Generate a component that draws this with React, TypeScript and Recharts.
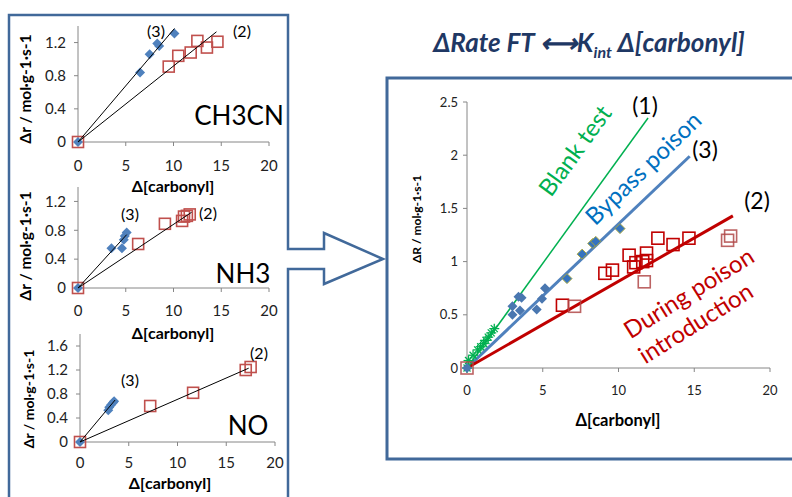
import React from 'react';
import { ScatterChart, Scatter, XAxis, YAxis } from 'recharts';

// ---- left panels: CH3CN / NH3 / NO ----
const ch3cnBypass = [{ x: 0, y: 0 }, { x: 6.5, y: 0.84 }, { x: 7.5, y: 1.06 }, { x: 8.3, y: 1.19 }, { x: 8.5, y: 1.16 }, { x: 10.1, y: 1.31 }];
const ch3cnDuring = [{ x: 0, y: 0 }, { x: 9.5, y: 0.91 }, { x: 10.5, y: 1.04 }, { x: 11.8, y: 1.08 }, { x: 12.5, y: 1.22 }, { x: 13.5, y: 1.14 }, { x: 14.6, y: 1.21 }];
const ch3cnFitBypass = [{ x: 0, y: 0 }, { x: 10.1, y: 1.37 }];
const ch3cnFitDuring = [{ x: 0, y: 0 }, { x: 14.5, y: 1.33 }];

const nh3Bypass = [{ x: 0, y: 0 }, { x: 3.5, y: 0.55 }, { x: 4.6, y: 0.55 }, { x: 4.8, y: 0.67 }, { x: 4.9, y: 0.72 }, { x: 5.1, y: 0.77 }];
const nh3During = [{ x: 0, y: 0 }, { x: 6.3, y: 0.61 }, { x: 9.1, y: 0.89 }, { x: 10.9, y: 0.93 }, { x: 11.1, y: 0.99 }, { x: 11.4, y: 1.0 }, { x: 11.7, y: 1.02 }];
const nh3FitBypass = [{ x: 0, y: 0 }, { x: 5.1, y: 0.74 }];
const nh3FitDuring = [{ x: 0, y: 0 }, { x: 11.9, y: 1.05 }];

const noBypass = [{ x: 0, y: 0 }, { x: 2.9, y: 0.53 }, { x: 3.0, y: 0.58 }, { x: 3.2, y: 0.62 }, { x: 3.4, y: 0.66 }, { x: 3.5, y: 0.68 }];
const noDuring = [{ x: 0, y: 0 }, { x: 7.2, y: 0.6 }, { x: 11.6, y: 0.82 }, { x: 17.0, y: 1.2 }, { x: 17.5, y: 1.25 }];
const noFitBypass = [{ x: 0, y: 0 }, { x: 3.6, y: 0.7 }];
const noFitDuring = [{ x: 0, y: 0 }, { x: 17.3, y: 1.23 }];

// ---- big panel ----
const blank = [{ x: 0, y: 0 }, { x: 0.1, y: 0.07 }, { x: 0.4, y: 0.12 }, { x: 0.7, y: 0.17 }, { x: 0.9, y: 0.2 }, { x: 1.1, y: 0.23 }, { x: 1.25, y: 0.26 }, { x: 1.4, y: 0.29 }, { x: 1.6, y: 0.33 }, { x: 1.8, y: 0.37 }];
const bypassA = [{ x: 6.6, y: 0.84 }, { x: 7.6, y: 1.07 }, { x: 8.3, y: 1.17 }, { x: 8.5, y: 1.19 }, { x: 10.1, y: 1.31 }];
const bypassB = [{ x: 0, y: 0 }, { x: 3.0, y: 0.5 }, { x: 3.0, y: 0.58 }, { x: 3.5, y: 0.54 }, { x: 3.6, y: 0.66 }, { x: 3.4, y: 0.67 }, { x: 4.6, y: 0.55 }, { x: 4.95, y: 0.65 }, { x: 5.15, y: 0.75 }];
const duringA = [{ x: 6.3, y: 0.59 }, { x: 9.1, y: 0.89 }, { x: 9.6, y: 0.92 }, { x: 10.7, y: 1.06 }, { x: 11.0, y: 0.95 }, { x: 11.15, y: 0.99 }, { x: 11.6, y: 1.0 }, { x: 11.85, y: 1.08 }, { x: 11.85, y: 1.01 }, { x: 12.6, y: 1.22 }, { x: 13.6, y: 1.16 }, { x: 14.65, y: 1.22 }];
const duringB = [{ x: 0, y: 0 }, { x: 7.1, y: 0.58 }, { x: 11.7, y: 0.81 }, { x: 17.2, y: 1.2 }, { x: 17.4, y: 1.24 }];
const fitBlank = [{ x: 0, y: 0 }, { x: 11.95, y: 2.35 }];
const fitBypass = [{ x: 0, y: 0 }, { x: 14.7, y: 1.99 }];
const fitDuring = [{ x: 0, y: 0 }, { x: 17.55, y: 1.43 }];

const xTicks = [0, 5, 10, 15, 20];
const smallYTicks = [0, 0.4, 0.8, 1.2];
const noYTicks = [0, 0.4, 0.8, 1.2, 1.6];
const bigYTicks = [0, 0.5, 1, 1.5, 2, 2.5];

const FONT = 'Lato, "Open Sans", sans-serif';
const AXIS = '#868686';
const NAVY = '#41699a';

const diamond = (fill: string, stroke = 'none', r = 5) => (p: any) => (
  <path d={`M${p.cx},${p.cy - r}L${p.cx + r},${p.cy}L${p.cx},${p.cy + r}L${p.cx - r},${p.cy}Z`} fill={fill} stroke={stroke} strokeWidth={1} />
);
const square = (stroke: string, s = 11, opacity = 1) => (p: any) => (
  <rect x={p.cx - s / 2} y={p.cy - s / 2} width={s} height={s} fill="none" stroke={stroke} strokeWidth={1.6} opacity={opacity} />
);
const asterisk = (stroke: string) => (p: any) => (
  <g stroke={stroke} strokeWidth={1.3}>
    <line x1={p.cx - 5} y1={p.cy} x2={p.cx + 5} y2={p.cy} />
    <line x1={p.cx} y1={p.cy - 5} x2={p.cx} y2={p.cy + 5} />
    <line x1={p.cx - 3.5} y1={p.cy - 3.5} x2={p.cx + 3.5} y2={p.cy + 3.5} />
    <line x1={p.cx - 3.5} y1={p.cy + 3.5} x2={p.cx + 3.5} y2={p.cy - 3.5} />
  </g>
);
const none = () => <g />;

type SmallProps = {
  top: number; height: number; margin: any; yMax: number; yTicks: number[]; tickGap: number;
  bypass: any[]; during: any[]; fitB: any[]; fitD: any[];
};

function SmallChart({ top, height, margin, yMax, yTicks, tickGap, bypass, during, fitB, fitD }: SmallProps) {
  return (
    <div style={{ position: 'absolute', left: 0, top }}>
      <ScatterChart width={290} height={height} margin={margin}>
        <XAxis type="number" dataKey="x" domain={[0, 20]} ticks={xTicks} stroke={AXIS} tickSize={4} tickMargin={tickGap}
          tick={{ fontSize: 15, fill: '#222' }} height={30} />
        <YAxis type="number" dataKey="y" domain={[0, yMax]} ticks={yTicks} stroke={AXIS} tickSize={4} tickMargin={8}
          tick={{ fontSize: 15, fill: '#222' }} width={40} />
        <Scatter data={bypass} shape={diamond('#4f81bd')} isAnimationActive={false} />
        <Scatter data={during} shape={square('#c0504d')} isAnimationActive={false} />
        <Scatter data={fitB} line={{ stroke: '#000', strokeWidth: 1 }} shape={none} isAnimationActive={false} />
        <Scatter data={fitD} line={{ stroke: '#000', strokeWidth: 1 }} shape={none} isAnimationActive={false} />
      </ScatterChart>
    </div>
  );
}

function BigChart() {
  return (
    <div style={{ position: 'absolute', left: 386, top: 80 }}>
      <ScatterChart width={406} height={380} margin={{ top: 22, right: 22, bottom: 62, left: 31 }}>
        <XAxis type="number" dataKey="x" domain={[0, 20]} ticks={xTicks} stroke={AXIS} tickSize={4} tickMargin={14}
          tick={{ fontSize: 13, fill: '#222' }} height={30} />
        <YAxis type="number" dataKey="y" domain={[0, 2.5]} ticks={bigYTicks} stroke={AXIS} tickSize={4} tickMargin={5}
          tick={{ fontSize: 13, fill: '#222' }} width={50} />
        <Scatter data={fitBlank} line={{ stroke: '#00b050', strokeWidth: 1.5 }} shape={none} isAnimationActive={false} />
        <Scatter data={fitBypass} line={{ stroke: '#4f81bd', strokeWidth: 3 }} shape={none} isAnimationActive={false} />
        <Scatter data={fitDuring} line={{ stroke: '#c00000', strokeWidth: 3 }} shape={none} isAnimationActive={false} />
        <Scatter data={blank} shape={asterisk('#00b050')} isAnimationActive={false} />
        <Scatter data={bypassB} shape={diamond('#4a77b0')} isAnimationActive={false} />
        <Scatter data={bypassA} shape={diamond('#3573bf', '#a6a640')} isAnimationActive={false} />
        <Scatter data={duringA} shape={square('#c00000', 12)} isAnimationActive={false} />
        <Scatter data={duringB} shape={square('#b04848', 12, 0.85)} isAnimationActive={false} />
      </ScatterChart>
    </div>
  );
}

const rot = (x: number, y: number, a: number) => `rotate(${a} ${x} ${y})`;

export default function App() {
  return (
    <div style={{ position: 'absolute', left: 0, top: 0, width: 792, height: 497, background: '#fff', fontFamily: FONT, overflow: 'hidden' }}>
      <SmallChart top={0} height={180} margin={{ top: 26, right: 21, bottom: 8, left: 38 }} yMax={1.4} yTicks={smallYTicks} tickGap={14}
        bypass={ch3cnBypass} during={ch3cnDuring} fitB={ch3cnFitBypass} fitD={ch3cnFitDuring} />
      <SmallChart top={160} height={160} margin={{ top: 27, right: 21, bottom: 2, left: 38 }} yMax={1.4} yTicks={smallYTicks} tickGap={13}
        bypass={nh3Bypass} during={nh3During} fitB={nh3FitBypass} fitD={nh3FitDuring} />
      <SmallChart top={320} height={160} margin={{ top: 14, right: 15, bottom: 8, left: 40 }} yMax={1.8} yTicks={noYTicks} tickGap={11}
        bypass={noBypass} during={noDuring} fitB={noFitBypass} fitD={noFitDuring} />
      <BigChart />

      <div style={{ position: 'absolute', left: 386, width: 406, top: 26, textAlign: 'center', fontStyle: 'italic', fontWeight: 'bold', fontSize: 26, color: '#1f3864', whiteSpace: 'nowrap' }}>
        ΔRate FT ⟷K<sub style={{ fontSize: 16 }}>int</sub> Δ[carbonyl]
      </div>

      <svg width={792} height={497} style={{ position: 'absolute', left: 0, top: 0, pointerEvents: 'none' }} fontFamily={FONT}>
        <path d="M9,500 L9,15 L288,15 L288,249 L324,249 L324,233 L383,259 L324,284 L324,269 L288,269 L288,500" fill="none" stroke={NAVY} strokeWidth={2.5} />
        <path d="M796,78 L387,78 L387,459 L796,459" fill="none" stroke={NAVY} strokeWidth={3} />

        {/* left panel titles */}
        <g fontWeight="bold" fontSize={16} fill="#000" textAnchor="middle" dominantBaseline="middle">
          <text x={173} y={188}>Δ[carbonyl]</text>
          <text x={173} y={335}>Δ[carbonyl]</text>
          <text x={170} y={485}>Δ[carbonyl]</text>
          <text x={27} y={89} fontSize={15.5} transform={rot(27, 89, -90)}>Δr / mol·g-1·s-1</text>
          <text x={27} y={246} fontSize={15.5} transform={rot(27, 246, -90)}>Δr / mol·g-1·s-1</text>
          <text x={30} y={399} fontSize={14} transform={rot(30, 399, -90)}>Δr / mol·g-1·s-1</text>
        </g>
        <g fontSize={16} fill="#000" textAnchor="middle" dominantBaseline="middle">
          <text x={156} y={33}>(3)</text>
          <text x={242} y={33}>(2)</text>
          <text x={130} y={216}>(3)</text>
          <text x={208} y={215}>(2)</text>
          <text x={130} y={382}>(3)</text>
          <text x={259} y={355}>(2)</text>
        </g>
        <g fontSize={26} fill="#000" textAnchor="middle" dominantBaseline="middle">
          <text x={239} y={118}>CH3CN</text>
          <text x={243} y={276}>NH3</text>
          <text x={248} y={428}>NO</text>
        </g>

        {/* big panel titles and labels */}
        <g fontWeight="bold" fill="#000" textAnchor="middle" dominantBaseline="middle">
          <text x={618} y={422} fontSize={16.5}>Δ[carbonyl]</text>
          <text x={418} y={219} fontSize={12} transform={rot(418, 219, -90)}>ΔR / mol·g-1·s-1</text>
        </g>
        <g fontSize={23} fill="#000" textAnchor="middle" dominantBaseline="middle">
          <text x={645} y={108}>(1)</text>
          <text x={705} y={152}>(3)</text>
          <text x={757} y={203}>(2)</text>
        </g>
        <g fontSize={24} textAnchor="middle" dominantBaseline="middle">
          <text x={577} y={152} fill="#00b050" transform={rot(577, 152, -54)}>Blank test</text>
          <text x={645} y={170} fill="#0070c0" transform={rot(645, 170, -44)}>Bypass poison</text>
          <text x={690} y={295} fill="#c00000" transform={rot(690, 295, -32)}>During poison</text>
          <text x={697} y={325} fill="#c00000" transform={rot(697, 325, -32)}>introduction</text>
        </g>
      </svg>
    </div>
  );
}
